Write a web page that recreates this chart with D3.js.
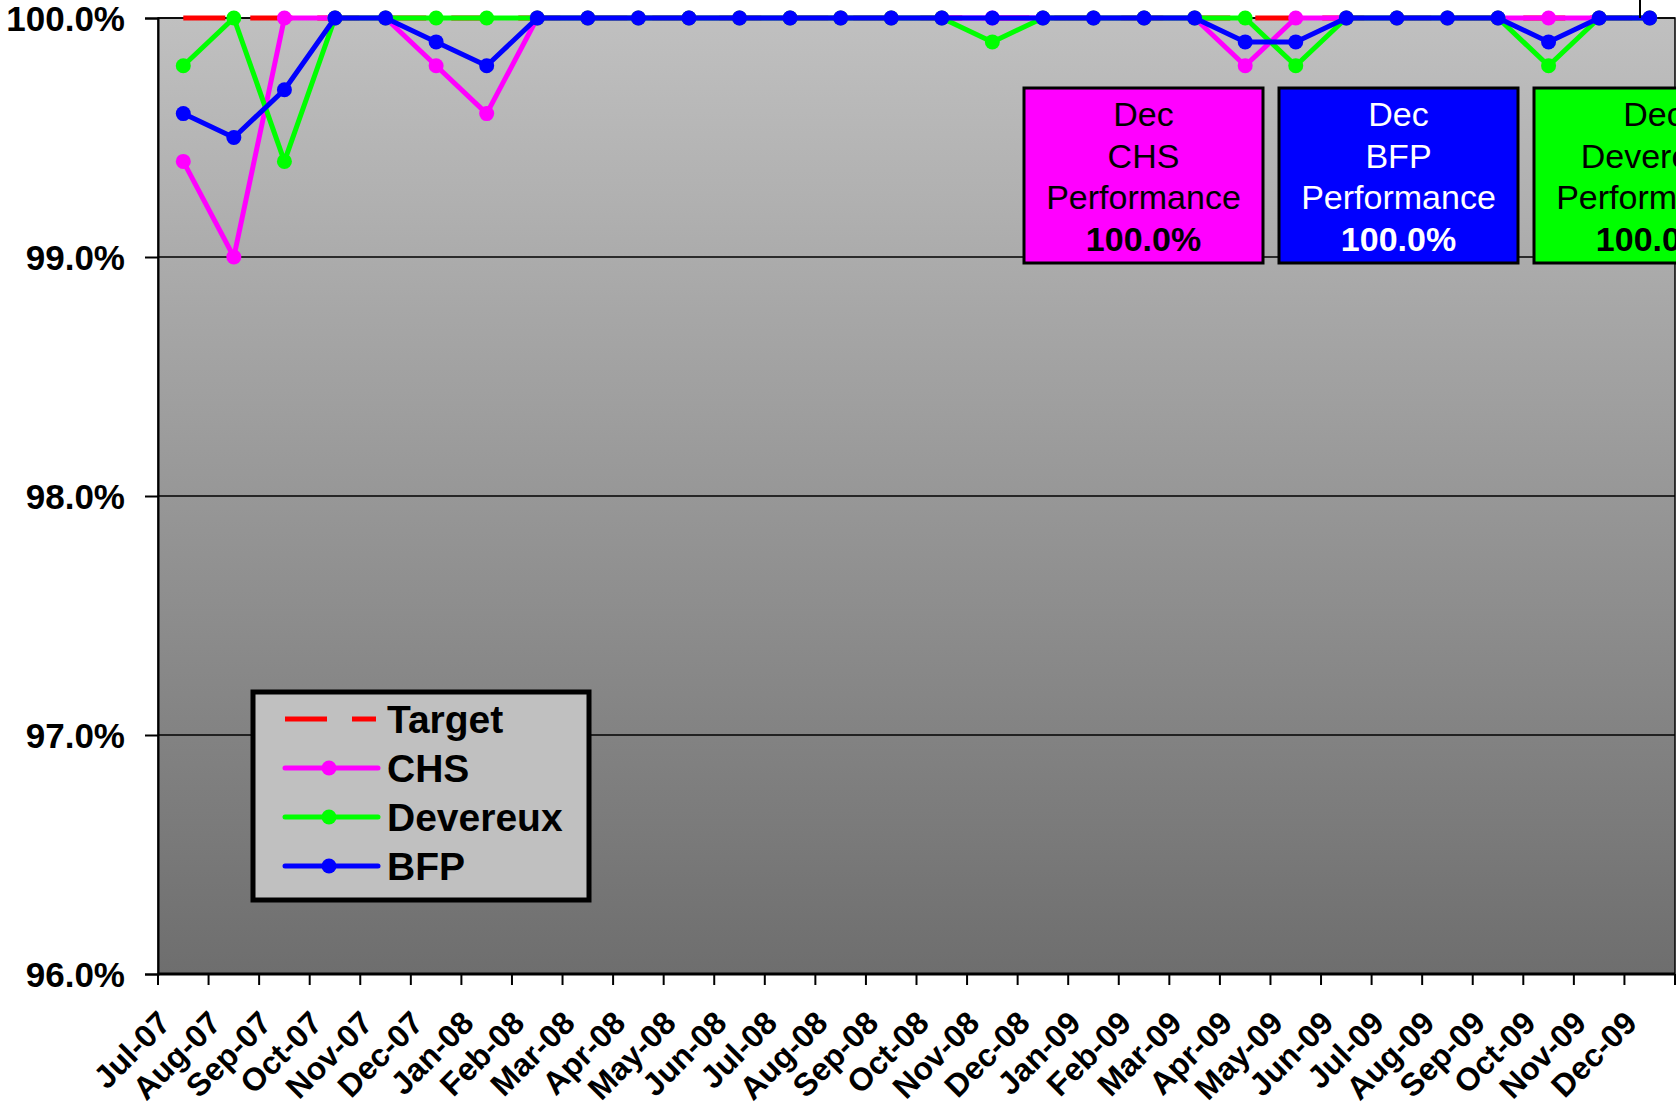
<!DOCTYPE html>
<html>
<head>
<meta charset="utf-8">
<script src="https://cdn.jsdelivr.net/npm/d3@7"></script>
<style>
  html, body { margin: 0; padding: 0; background: #fff; }
  svg { display: block; font-family: "Liberation Sans", Arial, sans-serif; }
</style>
</head>
<body>
<div id="chart"></div>
<script>
// months on the x axis
const months = ["Jul-07","Aug-07","Sep-07","Oct-07","Nov-07","Dec-07","Jan-08","Feb-08","Mar-08","Apr-08","May-08","Jun-08",
  "Jul-08","Aug-08","Sep-08","Oct-08","Nov-08","Dec-08","Jan-09","Feb-09","Mar-09","Apr-09","May-09","Jun-09",
  "Jul-09","Aug-09","Sep-09","Oct-09","Nov-09","Dec-09"];

// performance values (%)
const target = months.map(() => 100.0);
const chs = [99.4, 99.0, 100, 100, 100, 99.8, 99.6, 100, 100, 100, 100, 100,
  100, 100, 100, 100, 100, 100, 100, 100, 100, 99.8, 100, 100,
  100, 100, 100, 100, 100, 100];
const devereux = [99.8, 100, 99.4, 100, 100, 100, 100, 100, 100, 100, 100, 100,
  100, 100, 100, 100, 99.9, 100, 100, 100, 100, 100, 99.8, 100,
  100, 100, 100, 99.8, 100, 100];
const bfp = [99.6, 99.5, 99.7, 100, 100, 99.9, 99.8, 100, 100, 100, 100, 100,
  100, 100, 100, 100, 100, 100, 100, 100, 100, 99.9, 99.9, 100,
  100, 100, 100, 99.9, 100, 100];

const yTicks = [96, 97, 98, 99, 100];

// Dec summary boxes
const boxes = [
  { name: "CHS", value: 100.0, fill: "#ff00ff", text: "#000" },
  { name: "BFP", value: 100.0, fill: "#0000ff", text: "#fff" },
  { name: "Devereux", value: 100.0, fill: "#00ff00", text: "#000" }
];

const series = [
  { name: "Target", values: target, color: "#ff0000", dashed: true },
  { name: "CHS", values: chs, color: "#ff00ff" },
  { name: "Devereux", values: devereux, color: "#00ff00" },
  { name: "BFP", values: bfp, color: "#0000ff" }
];

const width = 1676, height = 1106;
const plot = { left: 158, right: 1675, top: 18, bottom: 974 };

const svg = d3.select("#chart").append("svg")
  .attr("width", width)
  .attr("height", height);

const x = d3.scaleBand().domain(months).range([plot.left, plot.right]).padding(0);
const y = d3.scaleLinear().domain([96, 100]).range([plot.bottom, plot.top]);
const cx = d => x(d) + x.bandwidth() / 2;

// plot background gradient
const grad = svg.append("defs").append("linearGradient")
  .attr("id", "bg").attr("x1", 0).attr("y1", 0).attr("x2", 0).attr("y2", 1);
grad.append("stop").attr("offset", "0%").attr("stop-color", "#c0c0c0");
grad.append("stop").attr("offset", "100%").attr("stop-color", "#6e6e6e");

svg.append("rect")
  .attr("x", plot.left).attr("y", plot.top)
  .attr("width", plot.right - plot.left).attr("height", plot.bottom - plot.top)
  .attr("fill", "url(#bg)")
  .attr("stroke", "#000").attr("stroke-width", 1.5);

// gridlines
svg.append("g").selectAll("line").data(yTicks).join("line")
  .attr("x1", plot.left).attr("x2", plot.right)
  .attr("y1", d => y(d)).attr("y2", d => y(d))
  .attr("stroke", "#000").attr("stroke-width", 1.5);

// left axis
const yAxis = svg.append("g")
  .attr("transform", `translate(${plot.left},0)`)
  .call(d3.axisLeft(y).tickValues(yTicks).tickSize(13).tickPadding(20)
    .tickFormat(d => d3.format(".1f")(d) + "%"));
yAxis.select(".domain").attr("stroke", "#000").attr("stroke-width", 2);
yAxis.selectAll(".tick line").attr("stroke", "#000").attr("stroke-width", 2);
yAxis.selectAll(".tick text")
  .attr("fill", "#000")
  .style("font-size", "35px").style("font-weight", "bold")
  .attr("dy", "0.36em");

// bottom axis: ticks at band edges, labels at centres
const xAxis = svg.append("g");
xAxis.append("line")
  .attr("x1", plot.left).attr("x2", plot.right)
  .attr("y1", plot.bottom).attr("y2", plot.bottom)
  .attr("stroke", "#000").attr("stroke-width", 3);
const edges = months.map(d => x(d)).concat([plot.right]);
xAxis.selectAll(".xtick").data(edges).join("line")
  .attr("class", "xtick")
  .attr("x1", d => d).attr("x2", d => d)
  .attr("y1", plot.bottom).attr("y2", plot.bottom + 11)
  .attr("stroke", "#000").attr("stroke-width", 2);
xAxis.selectAll(".xlabel").data(months).join("text")
  .attr("class", "xlabel")
  .attr("transform", d => `translate(${cx(d) - 11},${plot.bottom + 51}) rotate(-45)`)
  .attr("text-anchor", "end")
  .style("font-size", "32px").style("font-weight", "bold")
  .text(d => d);

// Dec summary boxes
const boxW = 239, boxH = 175, boxTop = 88, boxLeft = 1024, boxGap = 16;
const bx = svg.append("g").selectAll("g").data(boxes).join("g")
  .attr("transform", (d, i) => `translate(${boxLeft + i * (boxW + boxGap)},${boxTop})`);
bx.append("rect")
  .attr("width", boxW).attr("height", boxH)
  .attr("fill", d => d.fill)
  .attr("stroke", "#000").attr("stroke-width", 3);
bx.each(function(d) {
  const g = d3.select(this);
  const lines = ["Dec", d.name, "Performance", d3.format(".1f")(d.value) + "%"];
  lines.forEach((t, i) => {
    g.append("text")
      .attr("x", boxW / 2).attr("y", 38 + i * 41.6)
      .attr("text-anchor", "middle")
      .attr("fill", d.text)
      .style("font-size", "34px")
      .style("font-weight", i === 3 ? "bold" : "normal")
      .text(t);
  });
});

// series lines and markers
const line = d3.line().x((d, i) => cx(months[i])).y(d => y(d));
series.forEach(s => {
  svg.append("path")
    .datum(s.values)
    .attr("d", line)
    .attr("fill", "none")
    .attr("stroke", s.color)
    .attr("stroke-width", 5)
    .attr("stroke-linejoin", "round")
    .attr("stroke-dasharray", s.dashed ? "42,25" : null);
  if (!s.dashed) {
    svg.append("g").selectAll("circle").data(s.values).join("circle")
      .attr("cx", (d, i) => cx(months[i]))
      .attr("cy", d => y(d))
      .attr("r", 7.5)
      .attr("fill", s.color);
  }
});

// small border stub at top right
svg.append("line")
  .attr("x1", 1640).attr("x2", 1640).attr("y1", 0).attr("y2", plot.top)
  .attr("stroke", "#000").attr("stroke-width", 2);

// legend
const legend = svg.append("g").attr("transform", "translate(253,692)");
legend.append("rect")
  .attr("width", 336).attr("height", 208)
  .attr("fill", "#c0c0c0")
  .attr("stroke", "#000").attr("stroke-width", 5);
const li = legend.selectAll(".item").data(series).join("g")
  .attr("class", "item")
  .attr("transform", (d, i) => `translate(0,${27 + i * 49})`);
li.append("line")
  .attr("x1", 32).attr("x2", s => s.dashed ? 123 : 125)
  .attr("stroke", s => s.color)
  .attr("stroke-width", 5)
  .attr("stroke-linecap", s => s.dashed ? "butt" : "round")
  .attr("stroke-dasharray", s => s.dashed ? "42,25" : null);
li.filter(s => !s.dashed).append("circle")
  .attr("cx", 76).attr("r", 7.5)
  .attr("fill", s => s.color);
li.append("text")
  .attr("x", 134).attr("dy", "0.36em")
  .style("font-size", "39px").style("font-weight", "bold")
  .text(s => s.name);
</script>
</body>
</html>
